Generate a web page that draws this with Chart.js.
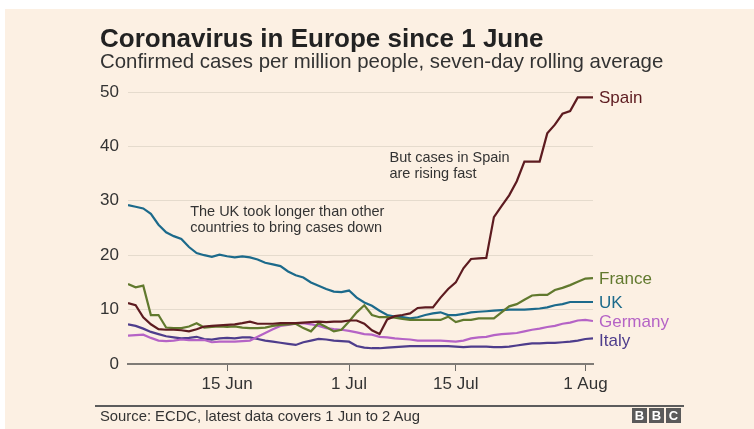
<!DOCTYPE html>
<html>
<head>
<meta charset="utf-8">
<script src="https://cdn.jsdelivr.net/npm/chart.js@4.4.0/dist/chart.umd.min.js"></script>
<style>
  body { margin: 0; background: #fff; font-family: "Liberation Sans", Arial, sans-serif; }
  #frame { position: absolute; left: 5px; top: 9px; width: 749px; height: 420px; background: #fcf0e3; }
  #chart { position: absolute; left: 0; top: 0; }
  .txt { position: absolute; white-space: nowrap; line-height: 1; }
  #title { left: 100px; top: 25px; font-size: 26px; font-weight: bold; color: #222; }
  #subtitle { left: 100px; top: 51px; font-size: 20.4px; color: #333; }
  #rule { position: absolute; left: 95px; top: 405px; width: 589px; height: 1.5px; background: #5c5c5c; }
  #source { left: 100px; top: 409px; font-size: 14.8px; color: #333; }
  .bbc { position: absolute; top: 408px; width: 15px; height: 15px; background: #5a5a5a; color: #fff;
         font-weight: bold; font-size: 13px; line-height: 15px; text-align: center; }
</style>
</head>
<body>
<div id="frame"></div>
<canvas id="chart" width="754" height="429"></canvas>
<div class="txt" id="title">Coronavirus in Europe since 1 June</div>
<div class="txt" id="subtitle">Confirmed cases per million people, seven-day rolling average</div>
<div id="rule"></div>
<div class="txt" id="source">Source: ECDC, latest data covers 1 Jun to 2 Aug</div>
<div class="bbc" style="left:632px">B</div>
<div class="bbc" style="left:649px">B</div>
<div class="bbc" style="left:666px">C</div>
<script>
// day 1 = 2 Jun ... day 62 = 2 Aug (1 Jun = day 0)
const tickDays = [14, 30, 44, 61];
const tickLabels = ['15 Jun', '1 Jul', '15 Jul', '1 Aug'];
const countries = ['Spain', 'France', 'UK', 'Germany', 'Italy'];
const colours = ['#5d1b20', '#61792e', '#1c6a8b', '#b563c6', '#4e3d8c'];

const spain = [11.2, 10.8, 8.6, 7.3, 6.4, 6.3, 6.3, 6.2, 6.0, 6.4, 6.9, 7.0, 7.1, 7.2, 7.3, 7.5, 7.8, 7.4, 7.4, 7.4,
  7.5, 7.5, 7.5, 7.6, 7.7, 7.8, 7.7, 7.8, 7.8, 8.0, 8.0, 7.4, 6.2, 5.5, 8.2, 8.8, 9.0, 9.3, 10.3, 10.4,
  10.4, 12.2, 13.8, 15.0, 17.6, 19.3, 19.4, 19.5, 27.0, 29.0, 31.0, 33.6, 37.2, 37.2, 37.2, 42.4, 44.0, 46.0, 46.5, 49.0,
  49.0, 49.0];
const france = [14.7, 14.1, 14.4, 9.0, 9.0, 6.7, 6.6, 6.6, 6.9, 7.5, 6.7, 6.8, 6.9, 6.8, 6.9, 6.7, 6.6, 6.6, 6.7, 7.0,
  7.2, 7.3, 7.4, 6.6, 6.0, 7.5, 6.8, 6.0, 6.3, 7.8, 9.5, 10.8, 9.0, 8.6, 8.6, 8.5, 8.3, 8.1, 8.1, 8.1,
  8.1, 8.1, 8.7, 7.7, 8.1, 8.1, 8.4, 8.4, 8.4, 9.5, 10.6, 11.0, 11.8, 12.6, 12.7, 12.7, 13.6, 14.0, 14.5, 15.1,
  15.7, 15.8];
const uk = [29.2, 28.9, 28.6, 27.6, 25.6, 24.2, 23.5, 23.0, 21.5, 20.4, 20.0, 19.7, 20.1, 19.8, 19.6, 19.8, 19.6, 19.2, 18.6, 18.3,
  18.0, 17.0, 16.3, 15.9, 15.0, 14.4, 13.8, 13.3, 13.2, 13.5, 12.2, 11.3, 10.7, 9.8, 9.0, 8.7, 8.6, 8.4, 8.6, 9.0,
  9.3, 9.5, 9.0, 9.0, 9.2, 9.5, 9.6, 9.7, 9.8, 9.9, 10.0, 10.0, 10.0, 10.1, 10.2, 10.4, 10.8, 11.0, 11.4, 11.4,
  11.4, 11.4];
const germany = [5.2, 5.3, 5.4, 4.8, 4.3, 4.2, 4.3, 4.5, 4.4, 4.4, 4.4, 4.0, 4.1, 4.1, 4.1, 4.2, 4.3, 5.0, 5.7, 6.4,
  7.0, 7.2, 7.4, 7.5, 7.3, 7.0, 6.6, 6.4, 6.3, 6.1, 5.8, 5.5, 5.4, 5.0, 4.9, 4.7, 4.6, 4.5, 4.3, 4.3,
  4.3, 4.3, 4.2, 4.1, 4.3, 4.7, 4.9, 5.0, 5.3, 5.5, 5.6, 5.7, 6.0, 6.3, 6.5, 6.8, 7.0, 7.4, 7.6, 8.0,
  8.1, 7.9];
const italy = [7.3, 7.0, 6.5, 5.9, 5.5, 5.1, 4.9, 4.7, 4.8, 5.0, 4.6, 4.5, 4.7, 4.8, 4.7, 4.9, 4.9, 4.6, 4.3, 4.1,
  3.9, 3.7, 3.5, 4.0, 4.3, 4.6, 4.5, 4.3, 4.2, 4.1, 3.3, 3.0, 2.9, 2.9, 3.0, 3.1, 3.2, 3.3, 3.3, 3.3,
  3.3, 3.3, 3.3, 3.2, 3.1, 3.2, 3.2, 3.2, 3.1, 3.1, 3.2, 3.4, 3.6, 3.8, 3.8, 3.9, 3.9, 4.0, 4.1, 4.3,
  4.6, 4.7];

const series = [spain, france, uk, germany, italy];
const days = spain.map((_, i) => i + 1);

const FONT = '"Liberation Sans", Arial, sans-serif';

// labels at the end of each line plus the two notes
const labelPlugin = {
  id: 'endLabels',
  afterDatasetsDraw(chart) {
    const { ctx, scales: { x, y } } = chart;
    ctx.save();
    ctx.textBaseline = 'middle';
    ctx.font = '17px ' + FONT;
    chart.data.datasets.forEach((ds, i) => {
      const last = ds.data[ds.data.length - 1];
      const nudge = ds.label === 'Italy' ? 2 : 0;
      ctx.fillStyle = colours[i];
      ctx.fillText(ds.label, x.getPixelForValue(last.x) + 6, y.getPixelForValue(last.y) + 1 + nudge);
    });

    ctx.font = '14.5px ' + FONT;
    ctx.fillStyle = '#333';
    const notes = [
      { day: 9.15, value: 27.9, lines: ['The UK took longer than other', 'countries to bring cases down'] },
      { day: 35.3, value: 37.8, lines: ['But cases in Spain', 'are rising fast'] }
    ];
    notes.forEach(n => {
      const px = x.getPixelForValue(n.day);
      const py = y.getPixelForValue(n.value);
      n.lines.forEach((t, k) => ctx.fillText(t, px, py + k * 16));
    });
    ctx.restore();
  }
};

new Chart(document.getElementById('chart'), {
  type: 'line',
  data: {
    datasets: countries.map((c, i) => ({
      label: c,
      data: series[i].map((v, k) => ({ x: days[k], y: v })),
      borderColor: colours[i],
      borderWidth: 2.2,
      pointRadius: 0,
      tension: 0,
      fill: false
    }))
  },
  options: {
    responsive: false,
    animation: false,
    layout: { padding: { top: 92, right: 161, left: 0, bottom: 0 } },
    plugins: { legend: { display: false }, tooltip: { enabled: false } },
    scales: {
      x: {
        type: 'linear',
        min: 1,
        max: 62,
        afterFit(scale) { scale.height = 65; },
        afterBuildTicks(scale) { scale.ticks = tickDays.map(v => ({ value: v })); },
        grid: { drawOnChartArea: false, drawTicks: true, tickLength: 7, color: '#6d6a66', tickWidth: 1 },
        border: { color: '#7f7b76', width: 2 },
        ticks: {
          autoSkip: false,
          maxRotation: 0,
          padding: 3,
          color: '#333',
          font: { family: FONT, size: 17 },
          callback: v => tickLabels[tickDays.indexOf(v)]
        }
      },
      y: {
        min: 0,
        max: 50,
        afterFit(scale) { scale.width = 128; },
        grid: { color: '#e5dbcd', lineWidth: 1, drawTicks: false },
        border: { display: false },
        ticks: {
          stepSize: 10,
          padding: 9,
          color: '#333',
          font: { family: FONT, size: 17 }
        }
      }
    }
  },
  plugins: [labelPlugin]
});
</script>
</body>
</html>
